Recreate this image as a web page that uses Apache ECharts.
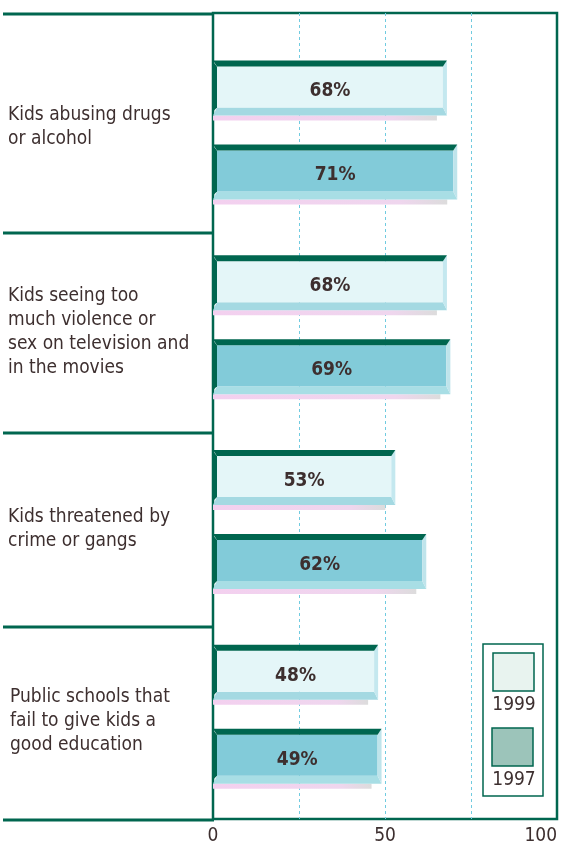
<!DOCTYPE html>
<html>
<head>
<meta charset="utf-8">
<script src="https://cdn.jsdelivr.net/npm/echarts@6/dist/echarts.min.js"></script>
<style>
  html, body { margin: 0; padding: 0; background: #ffffff; }
  #chart { width: 562px; height: 846px; }
</style>
</head>
<body>
<div id="chart"></div>
<script>
// Concerns named by parents, with the share who call each a serious problem
const categories = [
  'Kids abusing drugs\nor alcohol',
  'Kids seeing too\nmuch violence or\nsex on television and\nin the movies',
  'Kids threatened by\ncrime or gangs',
  'Public schools that\nfail to give kids a\ngood education'
];
const years = ['1999', '1997'];
const values1999 = [68, 68, 53, 48];
const values1997 = [71, 69, 62, 49];
const axisTicks = [0, 50, 100];

// Layout and styling
const FONT = '"Liberation Sans Narrow", "DejaVu Sans Condensed", "Liberation Sans", sans-serif';
const TEXT = '#3d2f2f';
const GREEN = '#00664f';
const labelCenters = [127, 332, 529, 721];
const labelLeft = [8, 8, 8, 10];
const separators = [14, 233, 433, 627, 820];

const palettes = {
  '1999': { body: '#e4f6f8', strip: '#a4d9e2', bevel: '#c4e8ef', legend: '#e8f3ef' },
  '1997': { body: '#82cbd9', strip: '#a8dee5', bevel: '#bfe4eb', legend: '#9cc4ba' }
};
const offsets = { '1999': -70, '1997': 14 };

function makeRender(year) {
  const pal = palettes[year];
  const off = offsets[year];
  return function (params, api) {
    const v = api.value(0);
    const i = api.value(1);
    const p0 = api.coord([0, i]);
    const p1 = api.coord([v, i]);
    const x0 = p0[0], x1 = p1[0];
    const t = p0[1] + off;
    const topH = 6, bodyB = t + 47, stripB = t + 55;
    return {
      type: 'group',
      children: [
        { // soft shadow under the bar
          type: 'rect',
          shape: { x: x0, y: stripB, width: x1 - x0 - 10, height: 5 },
          style: {
            fill: new echarts.graphic.LinearGradient(0, 0, 1, 0, [
              { offset: 0, color: '#f3d0ef' },
              { offset: 0.8, color: '#efd6ee' },
              { offset: 1, color: '#dcdcdc' }
            ])
          }
        },
        { // lower bevel strip
          type: 'polygon',
          shape: { points: [[x0 + 4, bodyB], [x1 - 4, bodyB], [x1, stripB], [x0, stripB]] },
          style: { fill: pal.strip }
        },
        { // face of the bar
          type: 'rect',
          shape: { x: x0 + 4, y: t + topH, width: x1 - x0 - 8, height: bodyB - t - topH },
          style: { fill: pal.body }
        },
        { // right bevel
          type: 'polygon',
          shape: { points: [[x1 - 4, t + topH], [x1, t], [x1, stripB], [x1 - 4, bodyB]] },
          style: { fill: pal.bevel }
        },
        { // dark top edge
          type: 'polygon',
          shape: { points: [[x0, t], [x1, t], [x1 - 4, t + topH], [x0 + 4, t + topH]] },
          style: { fill: GREEN }
        },
        { // dark left edge
          type: 'polygon',
          shape: { points: [[x0 - 1, t], [x0 + 4, t + topH], [x0 + 4, bodyB], [x0 - 1, stripB - 3]] },
          style: { fill: GREEN }
        },
        {
          type: 'text',
          style: {
            text: v + '%',
            x: (x0 + x1) / 2,
            y: t + 31,
            align: 'center',
            verticalAlign: 'middle',
            fill: TEXT,
            font: 'bold 19px ' + FONT
          }
        }
      ]
    };
  };
}

const graphics = [];
separators.forEach(function (y) {
  graphics.push({
    type: 'line', z: 10,
    shape: { x1: 3, y1: y, x2: 214, y2: y },
    style: { stroke: GREEN, lineWidth: 3 }
  });
});
categories.forEach(function (c, i) {
  graphics.push({
    type: 'text', z: 10,
    x: labelLeft[i], y: labelCenters[i],
    style: {
      text: c,
      fill: TEXT,
      font: '19px ' + FONT,
      lineHeight: 24,
      verticalAlign: 'middle',
      align: 'left'
    }
  });
});
// Legend box with swatches above their year labels
graphics.push({
  type: 'rect', z: 10,
  shape: { x: 483, y: 644, width: 60, height: 152 },
  style: { fill: '#ffffff', stroke: GREEN, lineWidth: 1.5 }
});
years.forEach(function (yr, k) {
  const top = 653 + k * 75;
  graphics.push({
    type: 'rect', z: 11,
    shape: { x: 493 - k, y: top, width: 41, height: 38 },
    style: { fill: palettes[yr].legend, stroke: GREEN, lineWidth: 1.5 }
  });
  graphics.push({
    type: 'text', z: 11,
    x: 514, y: top + 52,
    style: { text: yr, fill: TEXT, font: '19px ' + FONT, align: 'center', verticalAlign: 'middle' }
  });
});

const chart = echarts.init(document.getElementById('chart'), null, { renderer: 'canvas' });
chart.setOption({
  animation: false,
  backgroundColor: '#ffffff',
  grid: [
    { left: 213, right: 5, top: 13, bottom: 26, show: true, borderColor: GREEN, borderWidth: 2.5, backgroundColor: 'transparent' },
    { left: 213, right: 5, top: 33, bottom: 34 }
  ],
  xAxis: [
    {
      gridIndex: 0, type: 'value', min: 0, max: 100, interval: 25,
      axisLine: { show: false }, axisTick: { show: false },
      splitLine: {
        show: true, showMinLine: false, showMaxLine: false,
        lineStyle: { color: '#70cbe0', type: [3, 3], width: 1 }
      },
      axisLabel: {
        color: TEXT, fontSize: 19, fontFamily: FONT, margin: 8,
        alignMaxLabel: 'right',
        formatter: function (val) { return axisTicks.indexOf(val) >= 0 ? String(val) : ''; }
      }
    },
    { gridIndex: 1, type: 'value', min: 0, max: 100, show: false }
  ],
  yAxis: [
    { gridIndex: 0, type: 'value', show: false },
    { gridIndex: 1, type: 'category', data: categories, inverse: true, show: false }
  ],
  series: years.map(function (yr) {
    const vals = yr === '1999' ? values1999 : values1997;
    return {
      type: 'custom',
      name: yr,
      xAxisIndex: 1,
      yAxisIndex: 1,
      encode: { x: 0, y: 1 },
      renderItem: makeRender(yr),
      data: vals.map(function (v, i) { return [v, i]; }),
      z: 3
    };
  }),
  graphic: graphics
});
</script>
</body>
</html>
